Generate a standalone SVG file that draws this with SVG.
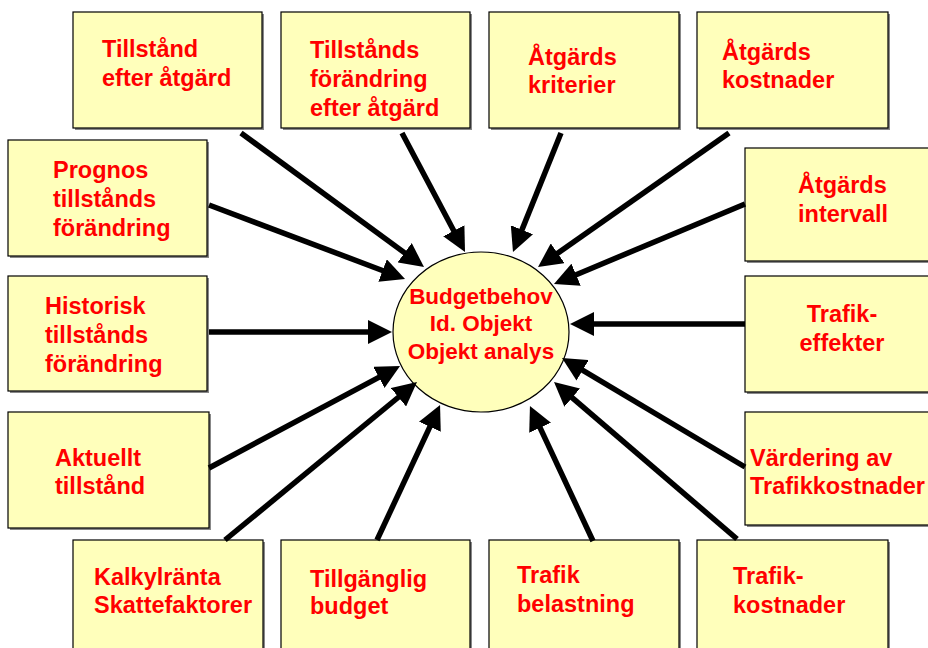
<svg xmlns="http://www.w3.org/2000/svg" width="928" height="648" viewBox="0 0 928 648">
<style>
.box{fill:#FFFFBB;stroke:#000;stroke-width:1.2}
.sh{fill:#888}
.t{font-family:"Liberation Sans",Arial,sans-serif;font-weight:bold;font-size:23.5px;fill:#FF0000}
.c{font-size:22.5px;text-anchor:middle}
.m{text-anchor:middle}
.ln{stroke:#000;stroke-width:5.5;fill:none;marker-end:url(#ah)}
</style>
<defs>
<marker id="ah" viewBox="0 0 24 24" markerUnits="userSpaceOnUse" markerWidth="24" markerHeight="24" refX="9" refY="12" orient="auto">
<path d="M0,0 L24,12 L0,24 z" fill="#000"/>
</marker>
</defs>
<rect width="928" height="648" fill="#fff"/>

<g id="n1"><rect class="sh" x="75" y="14" width="189" height="116"/><rect class="box" x="73" y="12" width="189" height="116"/>
<text class="t" x="102" y="57">Tillstånd</text><text class="t" x="102" y="86">efter åtgärd</text></g>
<g id="n2"><rect class="sh" x="283" y="14" width="189" height="116"/><rect class="box" x="281" y="12" width="189" height="116"/>
<text class="t" x="310" y="58">Tillstånds</text><text class="t" x="310" y="87">förändring</text><text class="t" x="310" y="116">efter åtgärd</text></g>
<g id="n3"><rect class="sh" x="491" y="14" width="190" height="116"/><rect class="box" x="489" y="12" width="190" height="116"/>
<text class="t" x="528" y="65">Åtgärds</text><text class="t" x="528" y="93">kriterier</text></g>
<g id="n4"><rect class="sh" x="699" y="14" width="191" height="116"/><rect class="box" x="697" y="12" width="191" height="116"/>
<text class="t" x="722" y="60">Åtgärds</text><text class="t" x="722" y="88">kostnader</text></g>
<g id="n5"><rect class="sh" x="747" y="150" width="190" height="113"/><rect class="box" x="745" y="148" width="190" height="113"/>
<text class="t" x="798" y="193">Åtgärds</text><text class="t" x="798" y="222">intervall</text></g>
<g id="n6"><rect class="sh" x="747" y="278" width="190" height="116"/><rect class="box" x="745" y="276" width="190" height="116"/>
<text class="t m" x="842" y="322">Trafik-</text><text class="t m" x="842" y="351">effekter</text></g>
<g id="n7"><rect class="sh" x="747" y="414" width="190" height="113"/><rect class="box" x="745" y="412" width="190" height="113"/>
<text class="t" x="750" y="466">Värdering av</text><text class="t" x="750" y="494">Trafikkostnader</text></g>
<g id="n8"><rect class="sh" x="699" y="542" width="191" height="116"/><rect class="box" x="697" y="540" width="191" height="116"/>
<text class="t" x="733" y="584">Trafik-</text><text class="t" x="733" y="613">kostnader</text></g>
<g id="n9"><rect class="sh" x="491" y="542" width="190" height="116"/><rect class="box" x="489" y="540" width="190" height="116"/>
<text class="t" x="517" y="583">Trafik</text><text class="t" x="517" y="612">belastning</text></g>
<g id="n10"><rect class="sh" x="283" y="542" width="189" height="116"/><rect class="box" x="281" y="540" width="189" height="116"/>
<text class="t" x="310" y="587">Tillgänglig</text><text class="t" x="310" y="614">budget</text></g>
<g id="n11"><rect class="sh" x="75" y="542" width="190" height="116"/><rect class="box" x="73" y="540" width="190" height="116"/>
<text class="t" x="94" y="585">Kalkylränta</text><text class="t" x="94" y="613">Skattefaktorer</text></g>
<g id="n12"><rect class="sh" x="10" y="414" width="201" height="116"/><rect class="box" x="8" y="412" width="201" height="116"/>
<text class="t" x="55" y="466">Aktuellt</text><text class="t" x="55" y="494">tillstånd</text></g>
<g id="n13"><rect class="sh" x="10" y="278" width="199" height="115"/><rect class="box" x="8" y="276" width="199" height="115"/>
<text class="t" x="45" y="314">Historisk</text><text class="t" x="45" y="343">tillstånds</text><text class="t" x="45" y="372">förändring</text></g>
<g id="n14"><rect class="sh" x="10" y="142" width="199" height="116"/><rect class="box" x="8" y="140" width="199" height="116"/>
<text class="t" x="53" y="178">Prognos</text><text class="t" x="53" y="207">tillstånds</text><text class="t" x="53" y="236">förändring</text></g>

<g id="center"><ellipse cx="481" cy="332" rx="88" ry="80" fill="#FFFFBB" stroke="#000" stroke-width="1.2"/>
<text class="t c" x="481" y="304">Budgetbehov</text><text class="t c" x="481" y="331">Id. Objekt</text><text class="t c" x="481" y="359">Objekt analys</text></g>

<g id="connectors">
<line class="ln" x1="241" y1="133" x2="411.9" y2="258.1"/>
<line class="ln" x1="402" y1="133" x2="458" y2="238.7"/>
<line class="ln" x1="561" y1="133" x2="518.6" y2="238.1"/>
<line class="ln" x1="729" y1="133" x2="550.3" y2="258.4"/>
<line class="ln" x1="745" y1="204" x2="567.8" y2="278.2"/>
<line class="ln" x1="745" y1="324" x2="585" y2="324"/>
<line class="ln" x1="745" y1="467" x2="574.9" y2="365.7"/>
<line class="ln" x1="737" y1="539" x2="565.4" y2="391.8"/>
<line class="ln" x1="593" y1="541" x2="536.3" y2="419.6"/>
<line class="ln" x1="377" y1="540" x2="433.7" y2="418.6"/>
<line class="ln" x1="225" y1="540" x2="405.4" y2="391.5"/>
<line class="ln" x1="209" y1="468" x2="386.8" y2="373.1"/>
<line class="ln" x1="209" y1="332" x2="377" y2="332"/>
<line class="ln" x1="209" y1="205" x2="391" y2="273.7"/>
</g>
</svg>
